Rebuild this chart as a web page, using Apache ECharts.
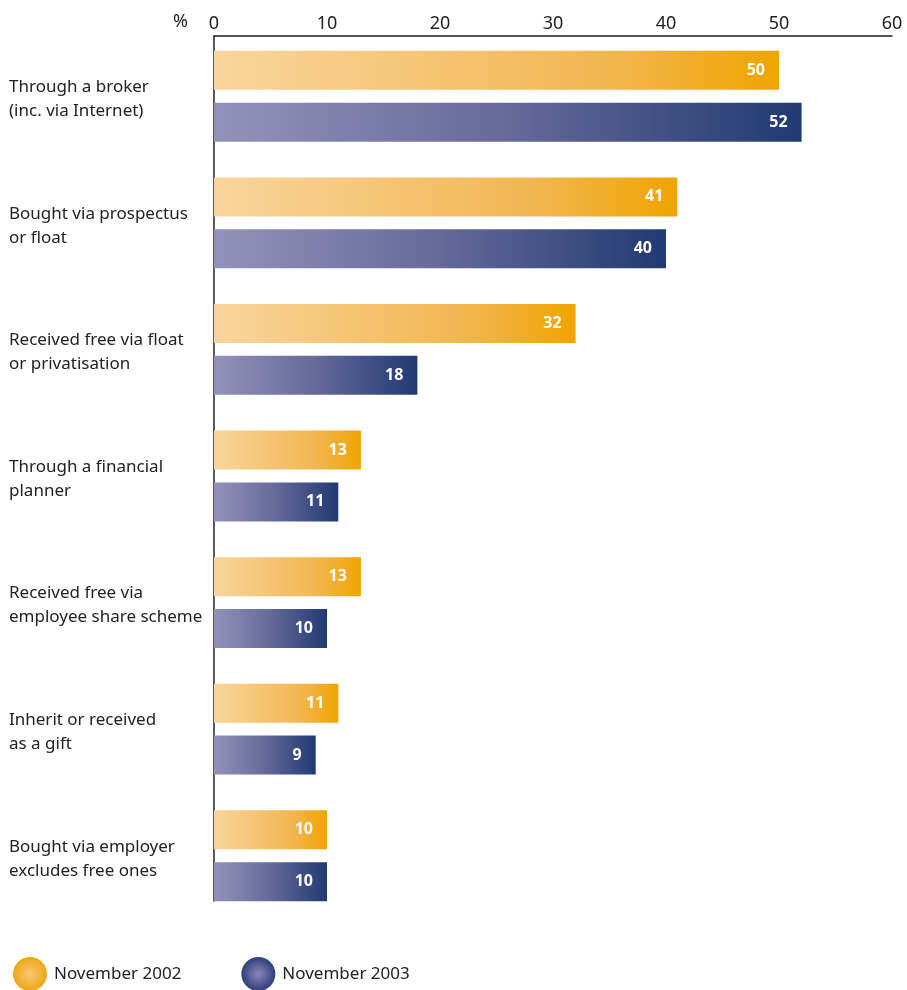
<!DOCTYPE html>
<html>
<head>
<meta charset="utf-8">
<script src="https://cdn.jsdelivr.net/npm/echarts@6/dist/echarts.min.js"></script>
<style>
  html, body { margin: 0; padding: 0; background: #fff; }
  #chart { width: 907px; height: 990px; }
</style>
</head>
<body>
<div id="chart"></div>
<script>
// How shares were acquired, % of shareholders
const categories = [
  'Through a broker\n(inc. via Internet)',
  'Bought via prospectus\nor float',
  'Received free via float\nor privatisation',
  'Through a financial\nplanner',
  'Received free via\nemployee share scheme',
  'Inherit or received\nas a gift',
  'Bought via employer\nexcludes free ones'
];
const nov2002 = [50, 41, 32, 13, 13, 11, 10];
const nov2003 = [52, 40, 18, 11, 10, 9, 10];
const seriesNames = ['November 2002', 'November 2003'];
const xMin = 0, xMax = 60, xStep = 10;

const FONT = 'Noto Sans';
const TEXT = '#222';

const orangeBar = new echarts.graphic.LinearGradient(0, 0, 1, 0, [
  { offset: 0, color: '#f9d59d' },
  { offset: 0.7, color: '#f2b650' },
  { offset: 1, color: '#f0a400' }
]);
const blueBar = new echarts.graphic.LinearGradient(0, 0, 1, 0, [
  { offset: 0, color: '#9392b9' },
  { offset: 0.5, color: '#66699a' },
  { offset: 1, color: '#203a72' }
]);
const orangeDot = new echarts.graphic.RadialGradient(0.5, 0.5, 0.5, [
  { offset: 0, color: '#f6c878' },
  { offset: 1, color: '#eea615' }
]);
const blueDot = new echarts.graphic.RadialGradient(0.5, 0.5, 0.5, [
  { offset: 0, color: '#8c86bb' },
  { offset: 1, color: '#2e3f7a' }
]);

const chart = echarts.init(document.getElementById('chart'));

const valueLabel = {
  show: true,
  position: 'insideRight',
  distance: 14,
  color: '#fff',
  fontFamily: FONT,
  fontWeight: 'bold',
  fontSize: 16
};

// category names as rich text; a thin spacer row nudges the two-line block down a little
const categoryLabel = v => '{s| }\n' + v.split('\n').map(line => '{t|' + line + '}').join('\n');

chart.setOption({
  animation: false,
  textStyle: { fontFamily: FONT },
  grid: [
    // frame: top value axis and left axis line
    { left: 214, right: 15, top: 36, bottom: 89 },
    // bars and category labels
    { left: 214, right: 15, top: 33, bottom: 71 }
  ],
  xAxis: [
    {
      gridIndex: 0,
      type: 'value',
      position: 'top',
      min: xMin, max: xMax, interval: xStep,
      axisLine: { show: true, onZero: false, lineStyle: { color: '#222', width: 1.5 } },
      axisTick: { show: false },
      splitLine: { show: false },
      axisLabel: { color: TEXT, fontSize: 18, margin: 3, fontFamily: FONT }
    },
    {
      gridIndex: 1,
      type: 'value',
      min: xMin, max: xMax, interval: xStep,
      show: false
    }
  ],
  yAxis: [
    {
      gridIndex: 0,
      type: 'value',
      min: 0, max: 1,
      axisLine: { show: true, onZero: false, lineStyle: { color: '#222', width: 1.5 } },
      axisTick: { show: false },
      axisLabel: { show: false },
      splitLine: { show: false }
    },
    {
      gridIndex: 1,
      type: 'category',
      inverse: true,
      data: categories,
      axisLine: { show: false },
      axisTick: { show: false },
      axisLabel: {
        align: 'left', verticalAlign: 'middle', margin: 205,
        formatter: categoryLabel,
        rich: {
          s: { fontSize: 4, lineHeight: 6, height: 6 },
          t: { color: TEXT, fontSize: 17, lineHeight: 24, fontFamily: FONT }
        }
      }
    }
  ],
  legend: {
    left: 8, top: 952,
    itemWidth: 34, itemHeight: 34, itemGap: 60,
    icon: 'circle',
    textStyle: { color: TEXT, fontSize: 17, fontFamily: FONT, padding: [0, 0, 0, 2] },
    data: [
      { name: seriesNames[0], itemStyle: { color: orangeDot } },
      { name: seriesNames[1], itemStyle: { color: blueDot } }
    ]
  },
  graphic: [
    {
      type: 'text', left: 173, top: 13,
      style: { text: '%', fill: TEXT, fontSize: 18, fontFamily: FONT }
    }
  ],
  series: [
    {
      name: seriesNames[0], type: 'bar',
      xAxisIndex: 1, yAxisIndex: 1,
      data: nov2002, barWidth: 39, barGap: '33%',
      itemStyle: { color: orangeBar },
      label: valueLabel
    },
    {
      name: seriesNames[1], type: 'bar',
      xAxisIndex: 1, yAxisIndex: 1,
      data: nov2003, barWidth: 39, barGap: '33%',
      itemStyle: { color: blueBar },
      label: valueLabel
    }
  ]
});
</script>
</body>
</html>
